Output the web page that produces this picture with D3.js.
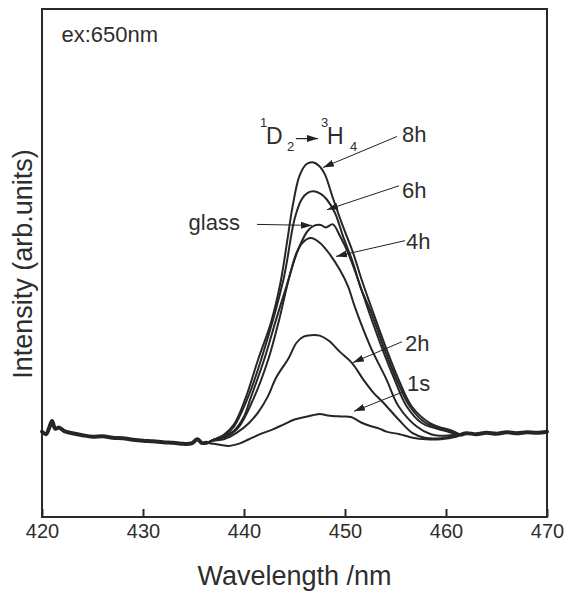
<!DOCTYPE html>
<html>
<head>
<meta charset="utf-8">
<script src="https://cdn.jsdelivr.net/npm/d3@7"></script>
<style>
  body { margin: 0; background: #fff; }
  text { font-family: "Liberation Sans", Arial, sans-serif; fill: #2e2e2e; }
</style>
</head>
<body>
<div id="chart"></div>
<script>
// Shared baseline (all spectra overlap here)
const baseLeftWl  = [420, 420.4, 420.7, 421.0, 421.3, 421.7, 422.2, 423, 424, 425, 426, 427, 428, 429, 430, 431, 432, 433, 434, 434.8, 435.4, 435.8, 436.3];
const baseLeftInt = [16.8, 16.3, 17.5, 18.9, 17.4, 17.6, 16.9, 16.5, 16.1, 15.8, 15.9, 15.6, 15.5, 15.2, 15.0, 14.9, 14.7, 14.6, 14.4, 14.5, 15.3, 14.6, 14.6];
const baseRightWl  = [461.5, 462, 463, 464, 465, 466, 467, 468, 469, 470];
const baseRightInt = [16.2, 16.5, 16.3, 16.6, 16.4, 16.7, 16.5, 16.7, 16.6, 16.8];

// Peak part of each spectrum
const wl8h  = [437, 438, 439, 440.1, 441.4, 442.7, 443.6, 444.3, 444.8, 445.5, 446.2, 446.9, 447.5, 448.0, 448.8, 449.8, 450.8, 451.7, 452.8, 454.0, 455.3, 456.6, 458.4, 460.7];
const int8h = [15.2, 16.2, 18.2, 23.1, 31.0, 38.5, 46.0, 54.6, 61.0, 67.2, 69.5, 69.8, 69.0, 67.5, 62.8, 57.2, 52.0, 46.4, 40.2, 33.6, 27.1, 21.8, 18.5, 16.9];

const wl6h  = [437, 438, 439, 440.3, 441.7, 443.9, 445.0, 445.7, 446.3, 446.9, 447.6, 448.2, 449.0, 449.8, 450.8, 451.5, 452.6, 453.8, 455.1, 456.4, 458.0, 460.3];
const int6h = [15.2, 16.0, 17.8, 23.1, 31.0, 46.7, 58.6, 62.5, 63.8, 64.1, 63.6, 62.5, 59.9, 55.3, 50.0, 45.4, 40.2, 33.6, 27.1, 21.8, 18.5, 16.9];

const wlGlass  = [437, 438.2, 439.4, 440.9, 442.4, 443.5, 444.6, 445.5, 446.3, 446.9, 447.6, 448.1, 448.8, 449.5, 450.3, 451.3, 452.4, 453.6, 454.9, 456.1, 457.6, 460.0];
const intGlass = [15.2, 15.8, 17.5, 23.1, 31.0, 39.0, 48.1, 53.3, 56.3, 57.3, 57.5, 57.0, 57.6, 55.3, 52.0, 46.7, 40.2, 33.6, 27.1, 21.8, 18.5, 16.9];

const wl4h  = [437, 437.5, 439, 440, 440.6, 442.0, 443.2, 444.4, 445.2, 445.8, 446.6, 447.5, 448.5, 449.5, 450.3, 451.0, 452.5, 454.1, 455.3, 457.1, 458.5, 459.4, 461];
const int4h = [15.2, 15.5, 17.0, 19.8, 23.1, 31.0, 39.0, 46.7, 52.0, 54.0, 54.9, 54.0, 51.7, 48.6, 45.4, 41.2, 33.6, 27.1, 21.8, 17.8, 16.3, 16.0, 16.2];

const wl2h  = [437, 438, 439.3, 440.5, 441.4, 442.3, 443.2, 444.4, 445.2, 445.9, 446.6, 447.5, 448.4, 449.5, 450.7, 451.8, 452.8, 453.8, 455.3, 456.7, 457.9, 459.5, 461];
const int2h = [15.0, 15.3, 16.6, 18.5, 20.6, 23.5, 27.5, 31.2, 34.3, 35.5, 35.8, 35.7, 34.7, 32.5, 30.3, 27.1, 24.5, 22.5, 19.2, 16.5, 15.6, 15.5, 16.0];

const wl1s  = [437, 438.5, 439.6, 440.5, 441.6, 442.8, 443.9, 445.0, 446.3, 447.5, 448.3, 449.5, 450.6, 451.6, 452.5, 453.4, 454.1, 455.4, 456.7, 458, 459.5, 461];
const int1s = [14.4, 14.0, 14.5, 15.3, 16.3, 17.2, 18.2, 19.2, 19.8, 20.3, 20.0, 19.8, 19.7, 18.6, 17.9, 17.4, 16.8, 16.3, 15.6, 15.3, 15.3, 15.8];

const seriesNames = ['8h', '6h', 'glass', '4h', '2h', '1s'];
const seriesWl  = [wl8h, wl6h, wlGlass, wl4h, wl2h, wl1s];
const seriesInt = [int8h, int6h, intGlass, int4h, int2h, int1s];

// Annotations: label position, arrow tail, arrow tip (data units)
const annotNames  = ['8h', '6h', 'glass', '4h', '2h', '1s'];
const annotLabel  = [[455.64, 73.9], [455.64, 62.7], [439.6, 56.4], [456.04, 52.7], [455.94, 32.6], [456.14, 24.9]];
const annotTail   = [[455.15, 74.9], [455.35, 65.2], [441.29, 57.6], [455.94, 54.4], [455.64, 34.5], [455.84, 24.7]];
const annotTip    = [[447.82, 68.8], [448.22, 60.5], [446.73, 57.4], [449.11, 51.3], [450.79, 30.4], [450.89, 20.8]];

const xTicks = [420, 430, 440, 450, 460, 470];

const width = 567;
const height = 591;
const margin = { top: 9, right: 20, bottom: 74, left: 42 };

const svg = d3.select('#chart').append('svg')
    .attr('width', width)
    .attr('height', height);

const defs = svg.append('defs');
defs.append('marker')
    .attr('id', 'head')
    .attr('markerUnits', 'userSpaceOnUse')
    .attr('markerWidth', 12)
    .attr('markerHeight', 8)
    .attr('refX', 11)
    .attr('refY', 4)
    .attr('orient', 'auto')
    .append('path')
    .attr('d', 'M0,0.5 L11,4 L0,7.5 Z')
    .attr('fill', '#222');

const xScale = d3.scaleLinear()
    .domain([420, 470])
    .range([margin.left, width - margin.right]);

const yScale = d3.scaleLinear()
    .domain([0, 100])
    .range([height - margin.bottom, margin.top]);

// Plot frame
svg.append('rect')
    .attr('x', margin.left)
    .attr('y', margin.top)
    .attr('width', width - margin.left - margin.right)
    .attr('height', height - margin.top - margin.bottom)
    .attr('fill', 'none')
    .attr('stroke', '#2a2a2a')
    .attr('stroke-width', 2);

// X axis with inward ticks
const xAxis = d3.axisBottom(xScale)
    .tickValues(xTicks)
    .tickFormat(d3.format('d'))
    .tickSizeInner(-8)
    .tickSizeOuter(0)
    .tickPadding(7);

const xAxisGroup = svg.append('g')
    .attr('class', 'axis x-axis')
    .attr('transform', `translate(0,${height - margin.bottom})`)
    .call(xAxis);

xAxisGroup.select('.domain').remove();
xAxisGroup.selectAll('line').attr('stroke', '#2a2a2a').attr('stroke-width', 2);
xAxisGroup.selectAll('text')
    .style('font-family', '"Liberation Sans", Arial, sans-serif')
    .style('font-size', '20px')
    .attr('fill', '#2e2e2e');

// Axis titles
svg.append('text')
    .attr('x', (margin.left + width - margin.right) / 2)
    .attr('y', 585)
    .attr('text-anchor', 'middle')
    .style('font-size', '27px')
    .text('Wavelength /nm');

svg.append('text')
    .attr('transform', 'translate(32,264) rotate(-90)')
    .attr('text-anchor', 'middle')
    .style('font-size', '27px')
    .text('Intensity (arb.units)');

// Spectra
const line = d3.line()
    .x(d => xScale(d[0]))
    .y(d => yScale(d[1]))
    .curve(d3.curveCatmullRom.alpha(0.5));

// Overlapping traces make the shared baseline look heavy
[baseLeftWl.map((w, j) => [w, baseLeftInt[j]]),
 baseRightWl.map((w, j) => [w, baseRightInt[j]])].forEach(seg => {
    svg.append('path')
        .datum(seg)
        .attr('fill', 'none')
        .attr('stroke', '#262626')
        .attr('stroke-width', 4)
        .attr('stroke-linejoin', 'round')
        .attr('stroke-linecap', 'round')
        .attr('d', line);
});

seriesNames.forEach((name, i) => {
    const pts = []
        .concat(baseLeftWl.map((w, j) => [w, baseLeftInt[j]]))
        .concat(seriesWl[i].map((w, j) => [w, seriesInt[i][j]]))
        .concat(baseRightWl.map((w, j) => [w, baseRightInt[j]]));
    svg.append('path')
        .datum(pts)
        .attr('class', 'spectrum')
        .attr('fill', 'none')
        .attr('stroke', '#262626')
        .attr('stroke-width', 2)
        .attr('stroke-linejoin', 'round')
        .attr('d', line);
});

// Annotation arrows and labels
annotNames.forEach((name, i) => {
    svg.append('line')
        .attr('x1', xScale(annotTail[i][0]))
        .attr('y1', yScale(annotTail[i][1]))
        .attr('x2', xScale(annotTip[i][0]))
        .attr('y2', yScale(annotTip[i][1]))
        .attr('stroke', '#222')
        .attr('stroke-width', 1)
        .attr('marker-end', 'url(#head)');
    svg.append('text')
        .attr('x', xScale(annotLabel[i][0]))
        .attr('y', yScale(annotLabel[i][1]))
        .attr('text-anchor', name === 'glass' ? 'end' : 'start')
        .style('font-size', '22px')
        .text(name);
});

// Excitation note
svg.append('text')
    .attr('x', xScale(421.93))
    .attr('y', yScale(93.6))
    .style('font-size', '22px')
    .text('ex:650nm');

// Transition label 1D2 -> 3H4
const tx = xScale(442.18);
const ty = yScale(73.5);
const trans = svg.append('g').attr('transform', `translate(${tx},${ty})`);
trans.append('text').attr('x', -6).attr('y', -17).style('font-size', '13px').text('1');
trans.append('text').attr('x', 0).attr('y', 0).style('font-size', '23px').text('D');
trans.append('text').attr('x', 21).attr('y', 7).style('font-size', '13px').text('2');
trans.append('line')
    .attr('x1', 30).attr('y1', -5)
    .attr('x2', 52).attr('y2', -5)
    .attr('stroke', '#222')
    .attr('stroke-width', 1.2)
    .attr('marker-end', 'url(#head)');
trans.append('text').attr('x', 55).attr('y', -17).style('font-size', '13px').text('3');
trans.append('text').attr('x', 61).attr('y', 0).style('font-size', '23px').text('H');
trans.append('text').attr('x', 84).attr('y', 7).style('font-size', '13px').text('4');
</script>
</body>
</html>
